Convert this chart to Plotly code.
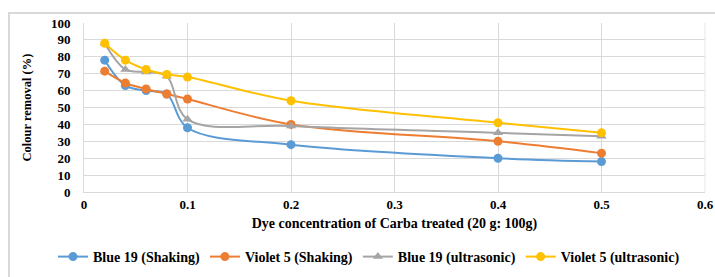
import plotly.graph_objects as go

x_vals = [0.02, 0.04, 0.06, 0.08, 0.1, 0.2, 0.4, 0.5]
blue19_shaking = [78, 63, 60, 58, 38, 28, 20, 18]
violet5_shaking = [71.5, 64.5, 61, 58, 55, 40, 30, 23]
blue19_ultra = [88, 72.5, 71, 68.5, 43, 39, 35, 33]
violet5_ultra = [88, 78, 72.5, 69.5, 68, 54, 41, 35]

series_names = ["Blue 19 (Shaking)", "Violet 5 (Shaking)",
                "Blue 19 (ultrasonic)", "Violet 5 (ultrasonic)"]
series_vals = [blue19_shaking, violet5_shaking, blue19_ultra, violet5_ultra]
colors = ["#5B9BD5", "#ED7D31", "#A5A5A5", "#FFC000"]
symbols = ["circle", "circle", "triangle-up", "circle"]

FONT = "Liberation Serif"

fig = go.Figure()
for name, vals, c, s in zip(series_names, series_vals, colors, symbols):
    fig.add_trace(go.Scatter(
        x=x_vals, y=vals, name=name, mode="lines+markers",
        line=dict(color=c, width=2, shape="spline", smoothing=1.0),
        marker=dict(color=c, size=9, symbol=s),
    ))

L, R, T, B = 84, 10, 23, 85
W, H = 715, 277
pw = W - L - R
ph = H - T - B

fig.update_layout(
    width=W, height=H,
    margin=dict(l=L, r=R, t=T, b=B, autoexpand=False),
    paper_bgcolor="white", plot_bgcolor="white",
    font=dict(family=FONT, size=13, color="#000000", weight="bold"),
    showlegend=True,
    legend=dict(orientation="h",
                x=(53 - L) / pw, xanchor="left",
                y=(H - B - 257) / ph, yanchor="middle",
                font=dict(family=FONT, size=14, color="#000000", weight="bold"),
                itemwidth=30, tracegroupgap=0),
    xaxis=dict(range=[0, 0.6], dtick=0.1, tick0=0, automargin=False,
               showgrid=True, gridcolor="#D9D9D9", gridwidth=1,
               zeroline=False, showline=True, linecolor="#D9D9D9", linewidth=1,
               mirror=False, ticks="", ticklabelstandoff=0,
               tickfont=dict(family=FONT, size=13, weight="bold"),
               title=dict(text="Dye concentration of Carba treated (20 g: 100g)",
                          font=dict(family=FONT, size=14, weight="bold"),
                          standoff=7)),
    yaxis=dict(range=[0, 100], dtick=10, tick0=0, automargin=False,
               showgrid=True, gridcolor="#D9D9D9", gridwidth=1,
               zeroline=False, showline=True, linecolor="#D9D9D9", linewidth=1,
               ticks="", ticklabelstandoff=10,
               tickfont=dict(family=FONT, size=13, weight="bold"),
               title=dict(text="Colour removal (%)",
                          font=dict(family=FONT, size=12.5, weight="bold"),
                          standoff=16)),
    shapes=[
        dict(type="rect", xref="paper", yref="paper",
             x0=(9 - L) / pw, x1=(W + 10 - L) / pw,
             y0=(H - B - (H + 10)) / ph, y1=(H - B - 13) / ph,
             line=dict(color="#D9D9D9", width=2), fillcolor="rgba(0,0,0,0)",
             layer="below"),
        dict(type="line", xref="paper", yref="paper",
             x0=1, x1=1, y0=0, y1=1,
             line=dict(color="#E6E6E6", width=1)),
    ],
)

fig.write_html(
    "out.html",
    config={"displayModeBar": False},
    post_script="document.body.style.margin='0';document.body.style.overflow='hidden';",
)
